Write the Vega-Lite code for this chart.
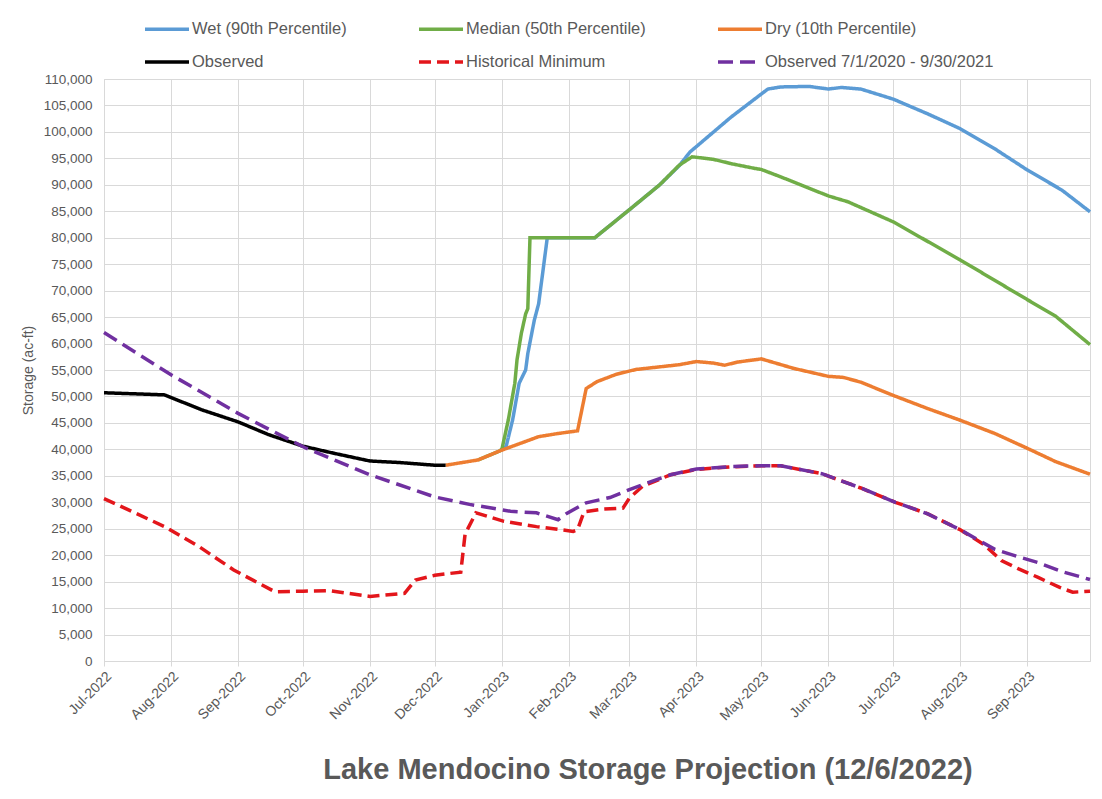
{
  "$schema": "https://vega.github.io/schema/vega-lite/v6.json",
  "width": 986,
  "height": 582,
  "autosize": {"type": "none"},
  "padding": {"left": 104, "top": 79, "right": 12, "bottom": 138},
  "background": "white",
  "config": {
    "font": "Liberation Sans",
    "view": {"stroke": "#d9d9d9", "strokeWidth": 1}
  },
  "title": {
    "text": "Lake Mendocino Storage Projection (12/6/2022)",
    "orient": "bottom",
    "anchor": "middle",
    "dx": 51,
    "offset": 33,
    "font": "Liberation Sans",
    "fontSize": 29,
    "fontWeight": "bold",
    "color": "#595959"
  },
  "data": {
    "values": [
      {"s": "Wet (90th Percentile)", "d": "2022-12-31", "v": 39700},
      {"s": "Wet (90th Percentile)", "d": "2023-01-03", "v": 40600},
      {"s": "Wet (90th Percentile)", "d": "2023-01-06", "v": 45600},
      {"s": "Wet (90th Percentile)", "d": "2023-01-09", "v": 52500},
      {"s": "Wet (90th Percentile)", "d": "2023-01-12", "v": 55000},
      {"s": "Wet (90th Percentile)", "d": "2023-01-13", "v": 58100},
      {"s": "Wet (90th Percentile)", "d": "2023-01-16", "v": 64400},
      {"s": "Wet (90th Percentile)", "d": "2023-01-18", "v": 67500},
      {"s": "Wet (90th Percentile)", "d": "2023-01-20", "v": 73700},
      {"s": "Wet (90th Percentile)", "d": "2023-01-22", "v": 80000},
      {"s": "Wet (90th Percentile)", "d": "2023-02-13", "v": 80000},
      {"s": "Wet (90th Percentile)", "d": "2023-03-01", "v": 85300},
      {"s": "Wet (90th Percentile)", "d": "2023-03-15", "v": 90000},
      {"s": "Wet (90th Percentile)", "d": "2023-03-24", "v": 93600},
      {"s": "Wet (90th Percentile)", "d": "2023-03-29", "v": 96200},
      {"s": "Wet (90th Percentile)", "d": "2023-04-17", "v": 102800},
      {"s": "Wet (90th Percentile)", "d": "2023-05-04", "v": 108100},
      {"s": "Wet (90th Percentile)", "d": "2023-05-10", "v": 108500},
      {"s": "Wet (90th Percentile)", "d": "2023-05-23", "v": 108600},
      {"s": "Wet (90th Percentile)", "d": "2023-06-01", "v": 108100},
      {"s": "Wet (90th Percentile)", "d": "2023-06-07", "v": 108400},
      {"s": "Wet (90th Percentile)", "d": "2023-06-16", "v": 108100},
      {"s": "Wet (90th Percentile)", "d": "2023-07-01", "v": 106200},
      {"s": "Wet (90th Percentile)", "d": "2023-07-17", "v": 103400},
      {"s": "Wet (90th Percentile)", "d": "2023-08-01", "v": 100600},
      {"s": "Wet (90th Percentile)", "d": "2023-08-17", "v": 96800},
      {"s": "Wet (90th Percentile)", "d": "2023-09-01", "v": 92800},
      {"s": "Wet (90th Percentile)", "d": "2023-09-17", "v": 89000},
      {"s": "Wet (90th Percentile)", "d": "2023-09-30", "v": 84900},

      {"s": "Median (50th Percentile)", "d": "2022-12-21", "v": 38000},
      {"s": "Median (50th Percentile)", "d": "2022-12-31", "v": 39700},
      {"s": "Median (50th Percentile)", "d": "2023-01-01", "v": 40000},
      {"s": "Median (50th Percentile)", "d": "2023-01-04", "v": 45600},
      {"s": "Median (50th Percentile)", "d": "2023-01-07", "v": 52500},
      {"s": "Median (50th Percentile)", "d": "2023-01-08", "v": 56900},
      {"s": "Median (50th Percentile)", "d": "2023-01-10", "v": 61900},
      {"s": "Median (50th Percentile)", "d": "2023-01-12", "v": 65600},
      {"s": "Median (50th Percentile)", "d": "2023-01-13", "v": 66600},
      {"s": "Median (50th Percentile)", "d": "2023-01-14", "v": 80000},
      {"s": "Median (50th Percentile)", "d": "2023-02-13", "v": 80000},
      {"s": "Median (50th Percentile)", "d": "2023-03-01", "v": 85300},
      {"s": "Median (50th Percentile)", "d": "2023-03-15", "v": 90000},
      {"s": "Median (50th Percentile)", "d": "2023-03-24", "v": 93700},
      {"s": "Median (50th Percentile)", "d": "2023-03-30", "v": 95300},
      {"s": "Median (50th Percentile)", "d": "2023-04-09", "v": 94800},
      {"s": "Median (50th Percentile)", "d": "2023-04-17", "v": 94000},
      {"s": "Median (50th Percentile)", "d": "2023-04-28", "v": 93100},
      {"s": "Median (50th Percentile)", "d": "2023-05-01", "v": 92900},
      {"s": "Median (50th Percentile)", "d": "2023-05-10", "v": 91500},
      {"s": "Median (50th Percentile)", "d": "2023-06-01", "v": 87900},
      {"s": "Median (50th Percentile)", "d": "2023-06-10", "v": 86800},
      {"s": "Median (50th Percentile)", "d": "2023-07-01", "v": 83000},
      {"s": "Median (50th Percentile)", "d": "2023-08-01", "v": 75800},
      {"s": "Median (50th Percentile)", "d": "2023-09-01", "v": 68300},
      {"s": "Median (50th Percentile)", "d": "2023-09-14", "v": 65200},
      {"s": "Median (50th Percentile)", "d": "2023-09-30", "v": 59800},

      {"s": "Dry (10th Percentile)", "d": "2022-12-06", "v": 37000},
      {"s": "Dry (10th Percentile)", "d": "2022-12-21", "v": 38000},
      {"s": "Dry (10th Percentile)", "d": "2022-12-31", "v": 39700},
      {"s": "Dry (10th Percentile)", "d": "2023-01-08", "v": 40900},
      {"s": "Dry (10th Percentile)", "d": "2023-01-18", "v": 42400},
      {"s": "Dry (10th Percentile)", "d": "2023-01-27", "v": 43000},
      {"s": "Dry (10th Percentile)", "d": "2023-02-05", "v": 43500},
      {"s": "Dry (10th Percentile)", "d": "2023-02-09", "v": 51500},
      {"s": "Dry (10th Percentile)", "d": "2023-02-14", "v": 52800},
      {"s": "Dry (10th Percentile)", "d": "2023-02-23", "v": 54200},
      {"s": "Dry (10th Percentile)", "d": "2023-03-04", "v": 55100},
      {"s": "Dry (10th Percentile)", "d": "2023-03-24", "v": 56000},
      {"s": "Dry (10th Percentile)", "d": "2023-04-01", "v": 56600},
      {"s": "Dry (10th Percentile)", "d": "2023-04-09", "v": 56300},
      {"s": "Dry (10th Percentile)", "d": "2023-04-14", "v": 55900},
      {"s": "Dry (10th Percentile)", "d": "2023-04-20", "v": 56500},
      {"s": "Dry (10th Percentile)", "d": "2023-05-01", "v": 57100},
      {"s": "Dry (10th Percentile)", "d": "2023-05-16", "v": 55300},
      {"s": "Dry (10th Percentile)", "d": "2023-06-01", "v": 53800},
      {"s": "Dry (10th Percentile)", "d": "2023-06-08", "v": 53600},
      {"s": "Dry (10th Percentile)", "d": "2023-06-16", "v": 52700},
      {"s": "Dry (10th Percentile)", "d": "2023-07-01", "v": 50200},
      {"s": "Dry (10th Percentile)", "d": "2023-07-17", "v": 47700},
      {"s": "Dry (10th Percentile)", "d": "2023-08-01", "v": 45500},
      {"s": "Dry (10th Percentile)", "d": "2023-08-17", "v": 43000},
      {"s": "Dry (10th Percentile)", "d": "2023-09-01", "v": 40200},
      {"s": "Dry (10th Percentile)", "d": "2023-09-14", "v": 37700},
      {"s": "Dry (10th Percentile)", "d": "2023-09-30", "v": 35300},

      {"s": "Observed", "d": "2022-07-01", "v": 50700},
      {"s": "Observed", "d": "2022-07-29", "v": 50300},
      {"s": "Observed", "d": "2022-08-15", "v": 47500},
      {"s": "Observed", "d": "2022-09-01", "v": 45200},
      {"s": "Observed", "d": "2022-09-15", "v": 42800},
      {"s": "Observed", "d": "2022-10-01", "v": 40600},
      {"s": "Observed", "d": "2022-10-16", "v": 39200},
      {"s": "Observed", "d": "2022-11-01", "v": 37800},
      {"s": "Observed", "d": "2022-11-15", "v": 37500},
      {"s": "Observed", "d": "2022-12-01", "v": 37000},
      {"s": "Observed", "d": "2022-12-06", "v": 37000},

      {"s": "Historical Minimum", "d": "2022-07-01", "v": 30700},
      {"s": "Historical Minimum", "d": "2022-07-29", "v": 25400},
      {"s": "Historical Minimum", "d": "2022-08-14", "v": 21600},
      {"s": "Historical Minimum", "d": "2022-08-30", "v": 17200},
      {"s": "Historical Minimum", "d": "2022-09-18", "v": 13100},
      {"s": "Historical Minimum", "d": "2022-10-01", "v": 13200},
      {"s": "Historical Minimum", "d": "2022-10-13", "v": 13300},
      {"s": "Historical Minimum", "d": "2022-11-01", "v": 12200},
      {"s": "Historical Minimum", "d": "2022-11-17", "v": 12800},
      {"s": "Historical Minimum", "d": "2022-11-22", "v": 15300},
      {"s": "Historical Minimum", "d": "2022-12-01", "v": 16200},
      {"s": "Historical Minimum", "d": "2022-12-13", "v": 16800},
      {"s": "Historical Minimum", "d": "2022-12-15", "v": 24000},
      {"s": "Historical Minimum", "d": "2022-12-20", "v": 28000},
      {"s": "Historical Minimum", "d": "2023-01-02", "v": 26400},
      {"s": "Historical Minimum", "d": "2023-01-17", "v": 25400},
      {"s": "Historical Minimum", "d": "2023-02-03", "v": 24500},
      {"s": "Historical Minimum", "d": "2023-02-05", "v": 24800},
      {"s": "Historical Minimum", "d": "2023-02-08", "v": 28200},
      {"s": "Historical Minimum", "d": "2023-02-17", "v": 28700},
      {"s": "Historical Minimum", "d": "2023-02-26", "v": 28900},
      {"s": "Historical Minimum", "d": "2023-03-01", "v": 30800},
      {"s": "Historical Minimum", "d": "2023-03-07", "v": 33000},
      {"s": "Historical Minimum", "d": "2023-03-20", "v": 35200},
      {"s": "Historical Minimum", "d": "2023-04-01", "v": 36200},
      {"s": "Historical Minimum", "d": "2023-04-17", "v": 36700},
      {"s": "Historical Minimum", "d": "2023-05-01", "v": 36900},
      {"s": "Historical Minimum", "d": "2023-05-10", "v": 36900},
      {"s": "Historical Minimum", "d": "2023-05-29", "v": 35400},
      {"s": "Historical Minimum", "d": "2023-06-16", "v": 32700},
      {"s": "Historical Minimum", "d": "2023-07-02", "v": 30000},
      {"s": "Historical Minimum", "d": "2023-07-17", "v": 27800},
      {"s": "Historical Minimum", "d": "2023-08-01", "v": 24800},
      {"s": "Historical Minimum", "d": "2023-08-12", "v": 22000},
      {"s": "Historical Minimum", "d": "2023-08-20", "v": 19000},
      {"s": "Historical Minimum", "d": "2023-08-28", "v": 17400},
      {"s": "Historical Minimum", "d": "2023-09-06", "v": 15800},
      {"s": "Historical Minimum", "d": "2023-09-16", "v": 13900},
      {"s": "Historical Minimum", "d": "2023-09-22", "v": 13000},
      {"s": "Historical Minimum", "d": "2023-09-30", "v": 13200},

      {"s": "Observed 7/1/2020 - 9/30/2021", "d": "2022-07-01", "v": 62100},
      {"s": "Observed 7/1/2020 - 9/30/2021", "d": "2022-08-01", "v": 54100},
      {"s": "Observed 7/1/2020 - 9/30/2021", "d": "2022-09-01", "v": 46800},
      {"s": "Observed 7/1/2020 - 9/30/2021", "d": "2022-10-02", "v": 40300},
      {"s": "Observed 7/1/2020 - 9/30/2021", "d": "2022-11-01", "v": 35200},
      {"s": "Observed 7/1/2020 - 9/30/2021", "d": "2022-12-01", "v": 31000},
      {"s": "Observed 7/1/2020 - 9/30/2021", "d": "2022-12-17", "v": 29600},
      {"s": "Observed 7/1/2020 - 9/30/2021", "d": "2023-01-05", "v": 28300},
      {"s": "Observed 7/1/2020 - 9/30/2021", "d": "2023-01-17", "v": 28000},
      {"s": "Observed 7/1/2020 - 9/30/2021", "d": "2023-01-27", "v": 26700},
      {"s": "Observed 7/1/2020 - 9/30/2021", "d": "2023-01-31", "v": 27900},
      {"s": "Observed 7/1/2020 - 9/30/2021", "d": "2023-02-09", "v": 29900},
      {"s": "Observed 7/1/2020 - 9/30/2021", "d": "2023-02-20", "v": 30900},
      {"s": "Observed 7/1/2020 - 9/30/2021", "d": "2023-03-01", "v": 32400},
      {"s": "Observed 7/1/2020 - 9/30/2021", "d": "2023-03-11", "v": 33900},
      {"s": "Observed 7/1/2020 - 9/30/2021", "d": "2023-03-20", "v": 35200},
      {"s": "Observed 7/1/2020 - 9/30/2021", "d": "2023-04-01", "v": 36300},
      {"s": "Observed 7/1/2020 - 9/30/2021", "d": "2023-04-17", "v": 36750},
      {"s": "Observed 7/1/2020 - 9/30/2021", "d": "2023-05-01", "v": 36900},
      {"s": "Observed 7/1/2020 - 9/30/2021", "d": "2023-05-10", "v": 36900},
      {"s": "Observed 7/1/2020 - 9/30/2021", "d": "2023-05-29", "v": 35400},
      {"s": "Observed 7/1/2020 - 9/30/2021", "d": "2023-06-16", "v": 32700},
      {"s": "Observed 7/1/2020 - 9/30/2021", "d": "2023-07-02", "v": 30000},
      {"s": "Observed 7/1/2020 - 9/30/2021", "d": "2023-07-17", "v": 27800},
      {"s": "Observed 7/1/2020 - 9/30/2021", "d": "2023-08-01", "v": 24800},
      {"s": "Observed 7/1/2020 - 9/30/2021", "d": "2023-08-17", "v": 21100},
      {"s": "Observed 7/1/2020 - 9/30/2021", "d": "2023-08-27", "v": 19800},
      {"s": "Observed 7/1/2020 - 9/30/2021", "d": "2023-09-06", "v": 18600},
      {"s": "Observed 7/1/2020 - 9/30/2021", "d": "2023-09-17", "v": 16900},
      {"s": "Observed 7/1/2020 - 9/30/2021", "d": "2023-09-30", "v": 15400}
    ]
  },
  "encoding": {
    "x": {
      "field": "d",
      "type": "temporal",
      "title": null,
      "scale": {
        "type": "utc",
        "nice": false,
        "domain": [
          {"year": 2022, "month": 7, "date": 1, "utc": true},
          {"year": 2023, "month": 9, "date": 30, "utc": true}
        ]
      },
      "axis": {
        "format": "%b-%Y",
        "tickCount": {"interval": "month", "step": 1},
        "labelAngle": -45,
        "labelFont": "Liberation Sans",
        "labelFontSize": 14,
        "labelColor": "#595959",
        "labelPadding": 3,
        "labelOverlap": false,
        "labelFlush": false,
        "grid": true,
        "gridColor": "#d9d9d9",
        "gridWidth": 1,
        "domainColor": "#d9d9d9",
        "tickColor": "#d9d9d9",
        "tickSize": 5
      }
    },
    "y": {
      "field": "v",
      "type": "quantitative",
      "title": "Storage (ac-ft)",
      "scale": {"domain": [0, 110000], "nice": false, "zero": true},
      "axis": {
        "values": [0, 5000, 10000, 15000, 20000, 25000, 30000, 35000, 40000, 45000, 50000, 55000, 60000, 65000, 70000, 75000, 80000, 85000, 90000, 95000, 100000, 105000, 110000],
        "format": ",d",
        "labelFont": "Liberation Sans",
        "labelFontSize": 13.5,
        "labelColor": "#595959",
        "labelPadding": 12,
        "ticks": false,
        "domain": false,
        "grid": true,
        "gridColor": "#d9d9d9",
        "gridWidth": 1,
        "titleFont": "Liberation Sans",
        "titleFontSize": 14,
        "titleFontWeight": "normal",
        "titleColor": "#595959",
        "titlePadding": 8
      }
    },
    "color": {
      "field": "s",
      "type": "nominal",
      "scale": {
        "domain": ["Wet (90th Percentile)", "Median (50th Percentile)", "Dry (10th Percentile)", "Observed", "Historical Minimum", "Observed 7/1/2020 - 9/30/2021"],
        "range": ["#5B9BD5", "#70AD47", "#ED7D31", "#000000", "#E3161B", "#7030A0"]
      },
      "legend": {
        "title": null,
        "orient": "none",
        "legendX": 39,
        "legendY": -74,
        "direction": "horizontal",
        "columns": 3,
        "columnPadding": 65,
        "rowPadding": 0,
        "symbolType": "stroke",
        "symbolSize": 1936,
        "labelFont": "Liberation Sans",
        "labelFontSize": 16.5,
        "labelColor": "#595959",
        "labelOffset": 1,
        "labelLimit": 400
      }
    },
    "strokeDash": {
      "field": "s",
      "type": "nominal",
      "scale": {
        "domain": ["Wet (90th Percentile)", "Median (50th Percentile)", "Dry (10th Percentile)", "Observed", "Historical Minimum", "Observed 7/1/2020 - 9/30/2021"],
        "range": [[1, 0], [1, 0], [1, 0], [1, 0], [12, 6], [15, 7]]
      }
    },
    "strokeWidth": {
      "field": "s",
      "type": "nominal",
      "scale": {
        "domain": ["Wet (90th Percentile)", "Median (50th Percentile)", "Dry (10th Percentile)", "Observed", "Historical Minimum", "Observed 7/1/2020 - 9/30/2021"],
        "range": [3.5, 3.5, 3.5, 4, 3.5, 4.5]
      }
    }
  },
  "layer": [
    {"transform": [{"filter": "datum.s === 'Wet (90th Percentile)'"}], "mark": {"type": "line"}},
    {"transform": [{"filter": "datum.s === 'Median (50th Percentile)'"}], "mark": {"type": "line"}},
    {"transform": [{"filter": "datum.s === 'Dry (10th Percentile)'"}], "mark": {"type": "line"}},
    {"transform": [{"filter": "datum.s === 'Observed'"}], "mark": {"type": "line"}},
    {"transform": [{"filter": "datum.s === 'Historical Minimum'"}], "mark": {"type": "line"}},
    {"transform": [{"filter": "datum.s === 'Observed 7/1/2020 - 9/30/2021'"}], "mark": {"type": "line"}}
  ]
}
